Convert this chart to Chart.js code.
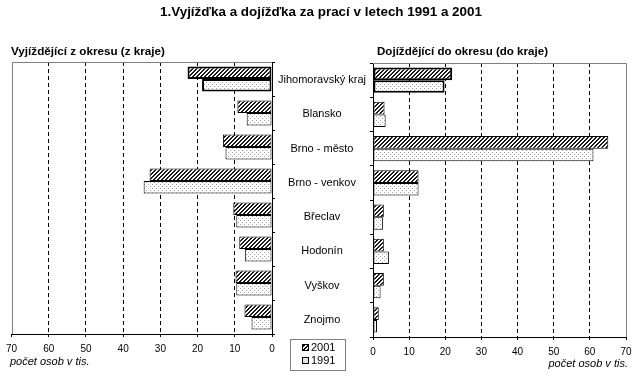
<!DOCTYPE html>
<html>
<head>
<meta charset="utf-8">
<script src="https://cdn.jsdelivr.net/npm/chart.js@4.4.1/dist/chart.umd.min.js"></script>
<style>
  body { margin: 0; background: #fff; }
  #wrap { position: relative; width: 644px; height: 391px; overflow: hidden;
          font-family: "Liberation Sans", Arial, sans-serif; color: #000; }
  canvas { position: absolute; left: 0; top: 0; }
  .txt { position: absolute; white-space: nowrap; transform-origin: 0 0; }
  .bold { font-weight: bold; }
  #legend { position: absolute; left: 290px; top: 339px; width: 54px; height: 30px;
            border: 1px solid #808080; background: #fff; font-size: 11px; }
  .item { position: absolute; left: 11px; height: 13px; line-height: 13px; }
  .sw { display: inline-block; width: 5px; height: 5px; border: 1px solid #000;
        margin-right: 2px; vertical-align: 0px; }
  .sw.hatch { background: repeating-linear-gradient(-45deg, #111 0 1.4px, #fff 1.4px 2.8px); }
  .sw.dots { background: #e4e4e4; }
</style>
</head>
<body>
<div id="wrap">
  <canvas id="chartOut" width="644" height="391"></canvas>
  <canvas id="chartIn" width="644" height="391"></canvas>

  <div class="txt bold" id="title" style="top:4px;font-size:13px;line-height:15px">1.Vyjížďka a dojížďka za prací v letech 1991 a 2001</div>
  <div class="txt bold" id="subOut" style="top:45px;font-size:11px;line-height:13px">Vyjíždějící z okresu (z kraje)</div>
  <div class="txt bold" id="subIn" style="top:45px;font-size:11px;line-height:13px">Dojíždějící do okresu (do kraje)</div>
  <div class="txt" style="left:10px;top:355px;font-size:11px;line-height:13px;font-style:italic">počet osob v tis.</div>
  <div class="txt" id="unitIn" style="top:357px;font-size:11px;line-height:13px;font-style:italic">počet osob v tis.</div>

  <div id="legend">
    <div class="item" style="top:1px"><span class="sw hatch"></span><span id="lg0"></span></div>
    <div class="item" style="top:14px"><span class="sw dots"></span><span id="lg1"></span></div>
  </div>
</div>

<script>
// --- Data (tis. osob) ---
const districts = ["Jihomoravský kraj", "Blansko", "Brno - město", "Brno - venkov",
                   "Břeclav", "Hodonín", "Vyškov", "Znojmo"];
const years = ["2001", "1991"];
const outgoing2001 = [22.7, 9.3, 13.2, 32.9, 10.4, 8.8, 9.8, 7.4];
const outgoing1991 = [18.8, 6.8, 12.5, 34.5, 9.6, 7.3, 9.6, 5.5];
const incoming2001 = [21.9, 3.2, 65.1, 12.6, 3.0, 3.0, 3.0, 1.6];
const incoming1991 = [19.8, 3.5, 61.0, 12.6, 2.8, 4.4, 2.1, 1.1];
const axisMin = 0;
const axisMax = 70;
const axisStep = 10;

// --- Patterns (pixel based, so they stay crisp) ---
function pixelPattern(size, isInk, ink) {
  const c = document.createElement("canvas");
  c.width = size; c.height = size;
  const g = c.getContext("2d");
  g.fillStyle = "#fff";
  g.fillRect(0, 0, size, size);
  g.fillStyle = ink;
  for (let y = 0; y < size; y++)
    for (let x = 0; x < size; x++)
      if (isInk(x, y)) g.fillRect(x, y, 1, 1);
  return g.createPattern(c, "repeat");
}
// "////" hatch for 2001, light stipple for 1991
const hatch = pixelPattern(4, (x, y) => (x + y) % 4 < 2, "#1a1a1a");
const dots = pixelPattern(4, (x, y) => (x === 0 && y === 0) || (x === 2 && y === 2), "#a0a0a0");
const borderWidths = districts.map((_, i) => (i === 0 ? 2 : 1));

// --- Grey frame on top and outer side of the plot ---
const plotFrame = {
  id: "plotFrame",
  beforeDatasetsDraw(chart, args, opts) {
    const { ctx, chartArea: a } = chart;
    const outer = Math.round(opts.side === "left" ? a.left : a.right) + 0.5;
    const inner = Math.round(opts.side === "left" ? a.right : a.left);
    const top = Math.round(a.top) + 0.5;
    ctx.save();
    ctx.strokeStyle = "#808080";
    ctx.lineWidth = 1;
    ctx.beginPath();
    ctx.moveTo(outer, Math.round(a.bottom));
    ctx.lineTo(outer, top);
    ctx.lineTo(inner, top);
    ctx.stroke();
    ctx.restore();
  },
};

const gridColor = (ctx) =>
  ctx.tick && (ctx.tick.value === axisMin || ctx.tick.value === axisMax)
    ? "rgba(0,0,0,0)" : "#000";

function valueAxis(reverse) {
  return {
    min: axisMin, max: axisMax, reverse,
    ticks: { stepSize: axisStep, padding: 6, color: "#000",
             font: { family: "Liberation Sans", size: 10 } },
    grid: { color: gridColor, tickColor: "#000", tickLength: 3, lineWidth: 1 },
    border: { color: "#000", width: 1, dash: [4, 3] },
    afterFit: (s) => { s.height = 20; },
  };
}

function datasets(d2001, d1991) {
  return [
    { label: years[0], data: d2001, backgroundColor: hatch, borderColor: "#000",
      borderWidth: borderWidths, borderSkipped: false },
    { label: years[1], data: d1991, backgroundColor: dots, borderColor: "#000",
      borderWidth: borderWidths, borderSkipped: false },
  ];
}

const common = {
  indexAxis: "y",
  responsive: false,
  animation: false,
  events: [],
  categoryPercentage: 0.74,
  barPercentage: 1,
};

// --- Vyjíždějící (left) ---
new Chart(document.getElementById("chartOut"), {
  type: "bar",
  data: { labels: districts, datasets: datasets(outgoing2001, outgoing1991) },
  options: {
    ...common,
    layout: { padding: { left: 11, top: 62, right: 369, bottom: 37 } },
    plugins: { legend: { display: false }, tooltip: { enabled: false }, plotFrame: { side: "left" } },
    scales: {
      x: valueAxis(true),
      y: {
        position: "right",
        ticks: { display: false, autoSkip: false },
        grid: { drawOnChartArea: false, offset: true, tickLength: 3, color: "#000" },
        border: { color: "#000" },
        afterFit: (s) => { s.width = 3; },
      },
    },
  },
  plugins: [plotFrame],
});

// --- Dojíždějící (right) ---
new Chart(document.getElementById("chartIn"), {
  type: "bar",
  data: { labels: districts, datasets: datasets(incoming2001, incoming1991) },
  options: {
    ...common,
    layout: { padding: { left: 270, top: 63, right: 18, bottom: 34 } },
    plugins: { legend: { display: false }, tooltip: { enabled: false }, plotFrame: { side: "right" } },
    scales: {
      x: valueAxis(false),
      y: {
        position: "left",
        ticks: { autoSkip: false, crossAlign: "center", padding: 4, color: "#000",
                 font: { family: "Liberation Sans", size: 11 } },
        grid: { drawOnChartArea: false, offset: true, tickLength: 3, color: "#000" },
        border: { color: "#000" },
        afterFit: (s) => { s.width = 103; },
      },
    },
  },
  plugins: [plotFrame],
});

// --- Texts: squeeze bold headings to the narrow width of the original ---
function fitText(id, left, width) {
  const el = document.getElementById(id);
  const w = el.getBoundingClientRect().width;
  el.style.left = left + "px";
  el.style.transform = "scaleX(" + (width / w) + ")";
}
fitText("title", 160, 322);
fitText("subOut", 11, 154);
fitText("subIn", 377, 171);

const unitIn = document.getElementById("unitIn");
unitIn.style.left = (628 - unitIn.getBoundingClientRect().width) + "px";

document.getElementById("lg0").textContent = years[0];
document.getElementById("lg1").textContent = years[1];
</script>
</body>
</html>
